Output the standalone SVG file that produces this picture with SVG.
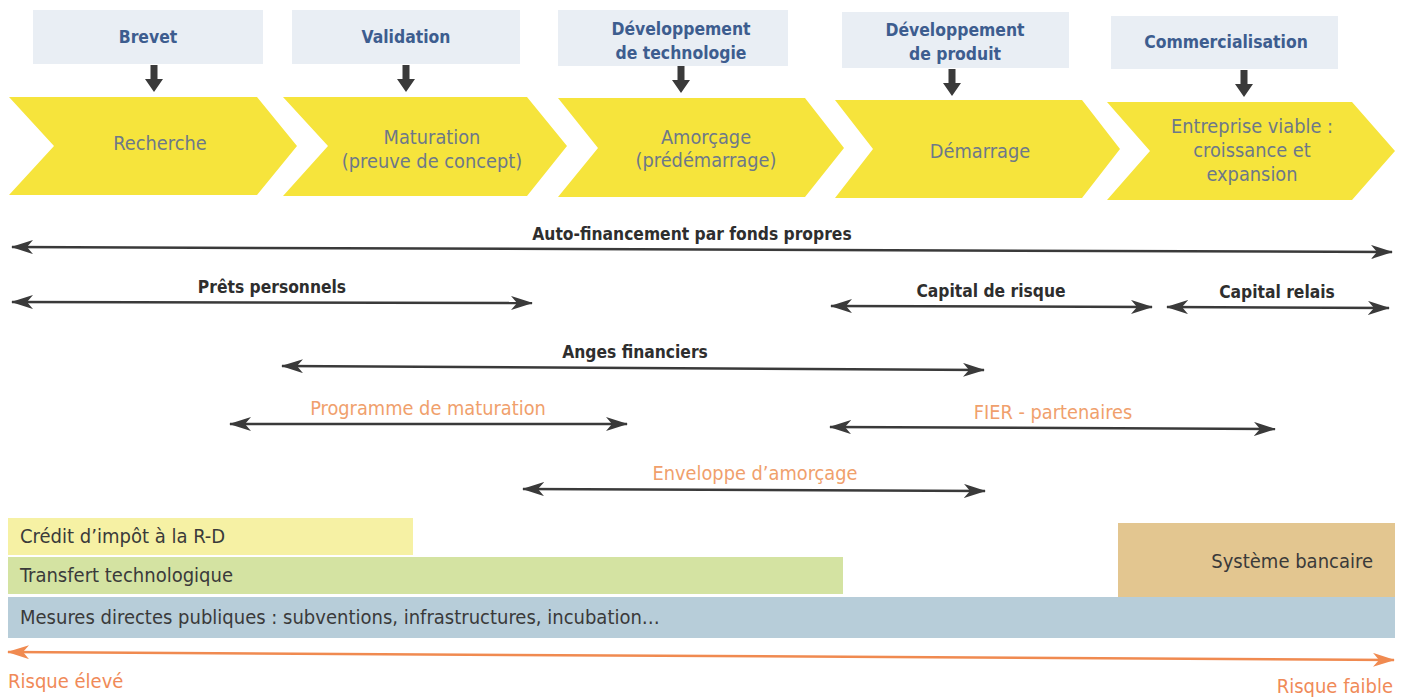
<svg xmlns="http://www.w3.org/2000/svg" width="1405" height="697" viewBox="0 0 1405 697">
<style>
text{font-family:"DejaVu Sans Condensed","Liberation Sans",sans-serif}
.top{fill:#e9eef4}
.tt{font-size:17.4px;font-weight:bold;fill:#3d5d8f;text-anchor:middle}
.chev{fill:#f6e43c}
.ct{font-size:19.8px;fill:#6d7889;text-anchor:middle}
.dn{fill:#3a3a3a}
.ar{stroke:#3a3a3a;stroke-width:2.5;fill:none;marker-start:url(#ah);marker-end:url(#ah)}
.lb{font-size:17.3px;font-weight:bold;fill:#2e2e2e;text-anchor:middle}
.lo{font-size:19.8px;fill:#f0a06c;text-anchor:middle}
.bt{font-size:20px;fill:#3a3a3a}
.rk{font-size:20px;fill:#f08a58}
</style>
<defs>
<marker id="ah" viewBox="0 0 22 14" refX="21" refY="7" markerWidth="22" markerHeight="14" markerUnits="userSpaceOnUse" orient="auto-start-reverse">
<path d="M0,0 L22,7 L0,14 L6,7 Z" fill="#3a3a3a"/>
</marker>
<marker id="oh" viewBox="0 0 22 14" refX="21" refY="7" markerWidth="22" markerHeight="14" markerUnits="userSpaceOnUse" orient="auto-start-reverse">
<path d="M0,0 L22,7 L0,14 L6,7 Z" fill="#f08a50"/>
</marker>
</defs>
<rect width="1405" height="697" fill="#ffffff"/>

<g id="stage-brevet">
<rect class="top" x="33" y="10" width="230" height="54"/>
<text class="tt" x="148" y="43">Brevet</text>
<polygon class="dn" points="150.5,65 157.5,65 157.5,79 163,79 154,92 145,79 150.5,79"/>
</g>
<g id="stage-validation">
<rect class="top" x="292" y="10" width="228" height="54"/>
<text class="tt" x="406" y="43">Validation</text>
<polygon class="dn" points="402.5,65 409.5,65 409.5,79 415,79 406,92 397,79 402.5,79"/>
</g>
<g id="stage-devtech">
<rect class="top" x="558" y="10" width="230" height="56"/>
<text class="tt" x="681" y="35">Développement</text>
<text class="tt" x="681" y="59">de technologie</text>
<polygon class="dn" points="677.5,66 684.5,66 684.5,80 690,80 681,93 672,80 677.5,80"/>
</g>
<g id="stage-devprod">
<rect class="top" x="842" y="12" width="227" height="56"/>
<text class="tt" x="955" y="36">Développement</text>
<text class="tt" x="955" y="60">de produit</text>
<polygon class="dn" points="948.5,69 955.5,69 955.5,83 961,83 952,96 943,83 948.5,83"/>
</g>
<g id="stage-commercialisation">
<rect class="top" x="1111" y="16" width="227" height="53"/>
<text class="tt" x="1226" y="48">Commercialisation</text>
<polygon class="dn" points="1240.5,70 1247.5,70 1247.5,84 1253,84 1244,97 1235,84 1240.5,84"/>
</g>

<g id="phase-recherche">
<polygon class="chev" points="9,97 257,97 297,146 257,195 9,195 54,146"/>
<text class="ct" x="160" y="150">Recherche</text>
</g>
<g id="phase-maturation">
<polygon class="chev" points="283,97 527,97 567,146 527,196 283,196 328,146"/>
<text class="ct" x="432" y="144">Maturation</text>
<text class="ct" x="432" y="168">(preuve de concept)</text>
</g>
<g id="phase-amorcage">
<polygon class="chev" points="558,98 805,98 844,148 805,197 558,197 598,148"/>
<text class="ct" x="706" y="144">Amorçage</text>
<text class="ct" x="706" y="167">(prédémarrage)</text>
</g>
<g id="phase-demarrage">
<polygon class="chev" points="835,100 1082,100 1120,149 1082,198 835,198 873,149"/>
<text class="ct" x="980" y="158">Démarrage</text>
</g>
<g id="phase-entreprise">
<polygon class="chev" points="1107,102 1352,102 1395,151 1352,200 1107,200 1150,151"/>
<text class="ct" x="1252" y="133">Entreprise viable :</text>
<text class="ct" x="1252" y="157">croissance et</text>
<text class="ct" x="1252" y="181">expansion</text>
</g>

<g id="connectors">
<line class="ar" x1="12" y1="247" x2="1392" y2="252"/>
<line class="ar" x1="12" y1="302" x2="532" y2="303"/>
<line class="ar" x1="831" y1="306" x2="1152" y2="307"/>
<line class="ar" x1="1167" y1="307" x2="1389" y2="308"/>
<line class="ar" x1="282" y1="366" x2="984" y2="370"/>
<line class="ar" x1="230" y1="424" x2="627" y2="424"/>
<line class="ar" x1="830" y1="427" x2="1275" y2="429"/>
<line class="ar" x1="523" y1="489" x2="985" y2="491"/>
<line x1="8" y1="652" x2="1394" y2="660" stroke="#f08a50" stroke-width="2.5" marker-start="url(#oh)" marker-end="url(#oh)"/>
</g>

<g id="labels">
<text class="lb" x="692" y="240">Auto-financement par fonds propres</text>
<text class="lb" x="272" y="293">Prêts personnels</text>
<text class="lb" x="991" y="297">Capital de risque</text>
<text class="lb" x="1277" y="298">Capital relais</text>
<text class="lb" x="635" y="358">Anges financiers</text>
<text class="lo" x="428" y="415">Programme de maturation</text>
<text class="lo" x="1053" y="419">FIER - partenaires</text>
<text class="lo" x="755" y="480">Enveloppe d’amorçage</text>
</g>

<g id="bar-credit">
<rect x="8" y="518" width="405" height="37" fill="#f6f1a4"/>
<text class="bt" x="20" y="543">Crédit d’impôt à la R-D</text>
</g>
<g id="bar-transfert">
<rect x="8" y="557" width="835" height="37" fill="#d4e3a2"/>
<text class="bt" x="20" y="582">Transfert technologique</text>
</g>
<g id="bar-systeme">
<rect x="1118" y="523" width="277" height="75" fill="#e3c690"/>
<text class="bt" x="1373" y="568" text-anchor="end">Système bancaire</text>
</g>
<g id="bar-mesures">
<rect x="8" y="597" width="1387" height="41" fill="#b7cdd9"/>
<text class="bt" x="20" y="624">Mesures directes publiques : subventions, infrastructures, incubation…</text>
</g>

<g id="risk-labels">
<text class="rk" x="8" y="688">Risque élevé</text>
<text class="rk" x="1393" y="693" text-anchor="end">Risque faible</text>
</g>
</svg>
